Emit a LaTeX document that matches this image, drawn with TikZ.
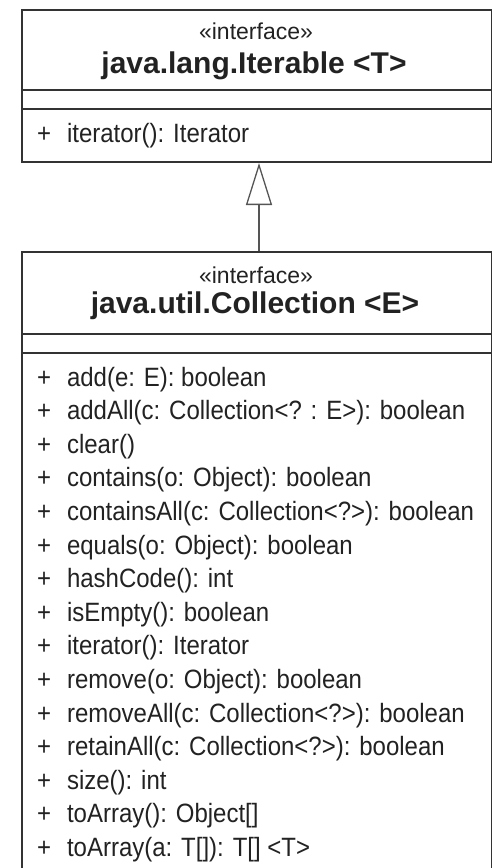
\documentclass[tikz,border=0pt]{standalone}
\usepackage{fontspec}
\setmainfont{Liberation Sans}
\usetikzlibrary{arrows.meta}
\definecolor{ink}{HTML}{222222}
\definecolor{rulec}{HTML}{333333}
\definecolor{connc}{HTML}{555555}
\newcommand{\methtext}[1]{\scalebox{0.905}[1]{\makebox[33pt][l]{+}#1}}
\begin{document}
\begin{tikzpicture}[x=1pt,y=-1pt,
  umlbox/.style={draw=rulec, line width=2pt, fill=white, inner sep=0pt, anchor=north west, minimum width=470pt},
  divider/.style={draw=rulec, line width=2pt},
  stereo/.style={text=ink, inner sep=0pt, anchor=base, font=\fontsize{23}{26}\selectfont},
  cname/.style={text=ink, inner sep=0pt, anchor=base, font=\bfseries\fontsize{30}{34}\selectfont},
  meth/.style={text=ink, inner sep=0pt, anchor=base west, font=\fontsize{26.5}{30}\selectfont},
  conn/.style={draw=connc, line width=2pt, -{Triangle[open, length=42pt, width=26pt, line width=1.3pt]}}
]
\path[use as bounding box, fill=white] (0,0) rectangle (492,868);

% Iterable box
\node[umlbox, minimum height=152pt] (iter) at (21,9) {};
\draw[divider] ([yshift=-81pt]iter.north west) -- ([yshift=-81pt]iter.north east);
\draw[divider] ([yshift=-100pt]iter.north west) -- ([yshift=-100pt]iter.north east);
\node[stereo] (st1) at (256,39) {«interface»};
\node[cname] (n1) at (254,73) {java.lang.Iterable <T>};
\node[meth] (i1) at (37,142) {\methtext{iterator(): Iterator}};

% Collection box
\node[umlbox, minimum height=640pt] (coll) at (21,251) {};
\draw[divider] ([yshift=-83pt]coll.north west) -- ([yshift=-83pt]coll.north east);
\draw[divider] ([yshift=-102pt]coll.north west) -- ([yshift=-102pt]coll.north east);
\node[stereo] (st2) at (256,283) {«interface»};
\node[cname] (n2) at (255,313) {java.util.Collection <E>};
\foreach \t [count=\i] in {
  {add(e: E): boolean},
  {addAll(c: Collection<? : E>): boolean},
  {clear()},
  {contains(o: Object): boolean},
  {containsAll(c: Collection<?>): boolean},
  {equals(o: Object): boolean},
  {hashCode(): int},
  {isEmpty(): boolean},
  {iterator(): Iterator},
  {remove(o: Object): boolean},
  {removeAll(c: Collection<?>): boolean},
  {retainAll(c: Collection<?>): boolean},
  {size(): int},
  {toArray(): Object[]},
  {toArray(a: T[]): T[] <T>}}
  \node[meth] (m\i) at (37,{386+33.6*(\i-1)}) {\methtext{\t}};

% generalization
\coordinate (ax) at (259,0);
\draw[conn] (coll.north -| ax) -- (iter.south -| ax);
\end{tikzpicture}
\end{document}
